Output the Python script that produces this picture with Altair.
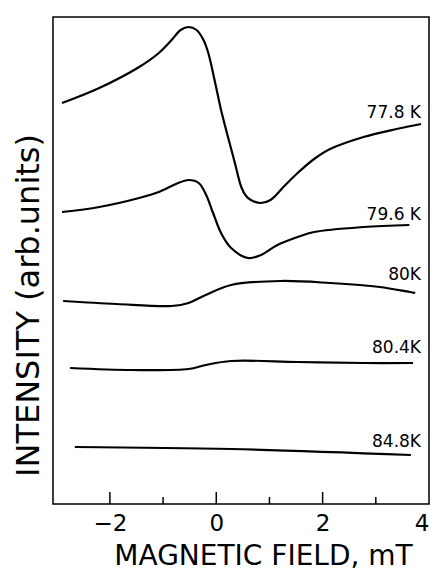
import altair as alt
import pandas as pd

# Field (mT) / intensity (arb. units)
x_778 = [-2.90, -2.20, -1.45, -1.08, -0.84, -0.67, -0.52, -0.37, -0.24, -0.15, -0.02, 0.09, 0.22, 0.35, 0.47, 0.56, 0.65, 0.84, 1.02, 1.28, 1.53, 1.84, 2.14, 2.77, 3.39, 3.85]
y_778 = [401, 416, 437, 451, 464, 474, 477, 474, 464, 451, 421, 394, 367, 341, 317, 308, 304, 301, 304, 318, 331, 345, 355, 367, 375, 380]

x_796 = [-2.90, -2.20, -1.45, -1.08, -0.76, -0.52, -0.33, -0.19, -0.06, 0.09, 0.28, 0.60, 0.84, 1.15, 1.53, 1.84, 2.77, 3.63]
y_796 = [292, 297, 306, 312, 320, 324, 321, 309, 291, 271, 256, 246, 249, 259, 267, 272, 277, 279]

x_800 = [-2.88, -1.88, -0.84, -0.52, -0.20, 0.28, 1.21, 2.14, 3.07, 3.74]
y_800 = [203, 200, 198, 201, 209, 219, 223, 221, 217, 211]

x_804 = [-2.75, -1.58, -0.52, -0.20, 0.28, 1.53, 2.77, 3.70]
y_804 = [136, 134, 135, 139, 143, 142, 141, 141]

x_848 = [-2.66, 0.28, 3.66]
y_848 = [57, 55, 49]

series_names = ["77.8 K", "79.6 K", "80K", "80.4K", "84.8K"]
label_x = [3.85, 3.85, 3.85, 3.85, 3.85]
label_y = [391, 289, 229, 156, 62]

major_ticks = [-2, 0, 2]
minor_ticks = [-1, 1, 3]
tick_labels = [-2, 0, 2, 4]

rows = []
for name, xs, ys in zip(series_names,
                        [x_778, x_796, x_800, x_804, x_848],
                        [y_778, y_796, y_800, y_804, y_848]):
    for a, b in zip(xs, ys):
        rows.append({"series": name, "field": a, "intensity": b})
df = pd.DataFrame(rows)
labels_df = pd.DataFrame({"series": series_names, "field": label_x, "intensity": label_y})
major_df = pd.DataFrame({"field": major_ticks})
minor_df = pd.DataFrame({"field": minor_ticks})

W, H = 376, 487
FONT = "DejaVu Sans"

xscale = alt.Scale(domain=[-3.07, 4], nice=False, zero=False)
yscale = alt.Scale(domain=[0, 487], nice=False, zero=False)

xaxis = alt.Axis(values=tick_labels, format="d", ticks=False, domain=False, grid=False,
                 labelFontSize=23, labelFont=FONT, labelColor="black", labelPadding=8,
                 labelFlush=True,
                 title="MAGNETIC FIELD, mT", titleFont=FONT, titleFontSize=28,
                 titleFontWeight="normal", titleColor="black",
                 titleX=210, titleY=52, titleAlign="center", titleBaseline="middle")
yaxis = alt.Axis(labels=False, ticks=False, domain=False, grid=False,
                 title="INTENSITY (arb.units)", titleFont=FONT, titleFontSize=32,
                 titleFontWeight="normal", titleColor="black",
                 titleX=-25, titleY=288, titleAngle=-90, titleAlign="center",
                 titleBaseline="middle")

lines = alt.Chart(df).mark_line(color="black", strokeWidth=2.2, interpolate="catmull-rom").encode(
    x=alt.X("field:Q", scale=xscale, axis=xaxis),
    y=alt.Y("intensity:Q", scale=yscale, axis=yaxis),
    detail="series:N",
)

texts = alt.Chart(labels_df).mark_text(align="right", baseline="middle", font=FONT,
                                       fontSize=17, color="black").encode(
    x=alt.X("field:Q", scale=xscale),
    y=alt.Y("intensity:Q", scale=yscale),
    text="series:N",
)

major = alt.Chart(major_df).mark_rule(color="black", strokeWidth=1.5).encode(
    x=alt.X("field:Q", scale=xscale),
    y=alt.value(H), y2=alt.value(H - 12),
)
minor = alt.Chart(minor_df).mark_rule(color="black", strokeWidth=1.5).encode(
    x=alt.X("field:Q", scale=xscale),
    y=alt.value(H), y2=alt.value(H - 7),
)

chart = alt.layer(lines, texts, major, minor).properties(
    width=W, height=H,
    padding={"left": 45, "top": 9, "right": 2, "bottom": 66},
    autosize=alt.AutoSizeParams(type="none"),
    background="white",
).configure_view(stroke="black", strokeWidth=1.5)

chart.save("out.html", embed_options={"renderer": "svg", "actions": False})
